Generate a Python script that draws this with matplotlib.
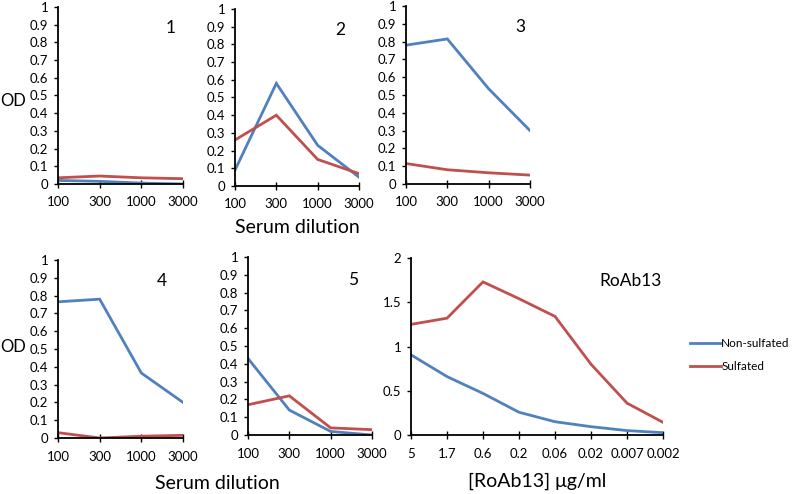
import matplotlib
matplotlib.use("Agg")
import matplotlib.pyplot as plt

plt.rcParams['font.family'] = ['Lato', 'DejaVu Sans']

BLUE = '#4F81BD'
RED = '#C0504D'

dilutions = ['100', '300', '1000', '3000']
conc = ['5', '1.7', '0.6', '0.2', '0.06', '0.02', '0.007', '0.002']

p1_non = [0.02, 0.015, 0.005, 0.0]
p1_sul = [0.035, 0.045, 0.035, 0.03]
p2_non = [0.09, 0.58, 0.23, 0.05]
p2_sul = [0.26, 0.40, 0.15, 0.07]
p3_non = [0.78, 0.815, 0.535, 0.30]
p3_sul = [0.115, 0.08, 0.063, 0.05]
p4_non = [0.765, 0.78, 0.365, 0.20]
p4_sul = [0.03, 0.0, 0.01, 0.015]
p5_non = [0.43, 0.14, 0.02, 0.0]
p5_sul = [0.17, 0.22, 0.04, 0.03]
ab_non = [0.906, 0.66, 0.47, 0.257, 0.15, 0.094, 0.05, 0.026]
ab_sul = [1.25, 1.32, 1.73, 1.54, 1.34, 0.80, 0.36, 0.143]

W, H = 793, 494
fig = plt.figure(figsize=(W/100, H/100), dpi=100)

TICK_FS = 9.5


def add_ax(x0, x1, ytop, ybot):
    return fig.add_axes([x0/W, 1-ybot/H, (x1-x0)/W, (ybot-ytop)/H])


def style(ax, cats, non, sul, ymax, ystep, yfmt, label, lpos):
    xs = list(range(len(cats)))
    ax.plot(xs, non, color=BLUE, lw=2.0, solid_joinstyle='miter')
    ax.plot(xs, sul, color=RED, lw=2.0, solid_joinstyle='miter')
    ax.set_xlim(0, len(cats)-1)
    ax.set_ylim(0, ymax)
    n = int(round(ymax/ystep))
    yt = [i*ystep for i in range(n+1)]
    ax.set_yticks(yt)
    ax.set_yticklabels([yfmt(v) for v in yt])
    ax.set_xticks(xs)
    ax.set_xticklabels(cats)
    for s in ['top', 'right']:
        ax.spines[s].set_visible(False)
    for s in ['left', 'bottom']:
        ax.spines[s].set_linewidth(1.3)
        ax.spines[s].set_color('black')
    ax.tick_params(axis='y', direction='out', length=3, width=1, labelsize=TICK_FS, pad=4)
    ax.tick_params(axis='x', direction='inout', length=6, width=1, labelsize=TICK_FS, pad=6)
    ax.patch.set_alpha(0)
    ax.text(lpos[0], lpos[1], label, transform=ax.transAxes, ha='center', va='center', fontsize=12.5)


def fmt1(v):
    v = round(v, 1)
    if v == 0:
        return '0'
    if v == 1:
        return '1'
    return ('%.1f' % v)


def fmt2(v):
    v = round(v, 1)
    if v == int(v):
        return '%d' % v
    return '%.1f' % v


ax1 = add_ax(58, 183, 7, 184)
style(ax1, dilutions, p1_non, p1_sul, 1, 0.1, fmt1, '1', (0.9, 0.88))
ax2 = add_ax(235, 359, 9, 186)
style(ax2, dilutions, p2_non, p2_sul, 1, 0.1, fmt1, '2', (0.85, 0.88))
ax3 = add_ax(406, 530, 6, 184)
style(ax3, dilutions, p3_non, p3_sul, 1, 0.1, fmt1, '3', (0.92, 0.88))
ax4 = add_ax(58, 183, 260, 438)
style(ax4, dilutions, p4_non, p4_sul, 1, 0.1, fmt1, '4', (0.83, 0.88))
ax5 = add_ax(248, 372, 257, 435)
style(ax5, dilutions, p5_non, p5_sul, 1, 0.1, fmt1, '5', (0.85, 0.87))
ax6 = add_ax(411, 663, 258, 435)
style(ax6, conc, ab_non, ab_sul, 2, 0.5, fmt2, 'RoAb13', (0.87, 0.87))

fig.text(13/W, 1-101/H, 'OD', fontsize=12, ha='center', va='center')
fig.text(13/W, 1-347/H, 'OD', fontsize=12, ha='center', va='center')
fig.text(297/W, 1-227/H, 'Serum dilution', fontsize=14, ha='center', va='center')
fig.text(217/W, 1-483/H, 'Serum dilution', fontsize=14, ha='center', va='center')
fig.text(537/W, 1-481/H, '[RoAb13] μg/ml', fontsize=14, ha='center', va='center')

from matplotlib.lines import Line2D
handles = [Line2D([], [], color=BLUE, lw=2), Line2D([], [], color=RED, lw=2)]
fig.legend(handles, ['Non-sulfated', 'Sulfated'], loc='center left',
           bbox_to_anchor=(690/W, 1-355/H), frameon=False, fontsize=8.5,
           handlelength=2.6, handletextpad=0.05, labelspacing=1.0,
           borderaxespad=0, borderpad=0)

fig.savefig('out.png', dpi=100)
